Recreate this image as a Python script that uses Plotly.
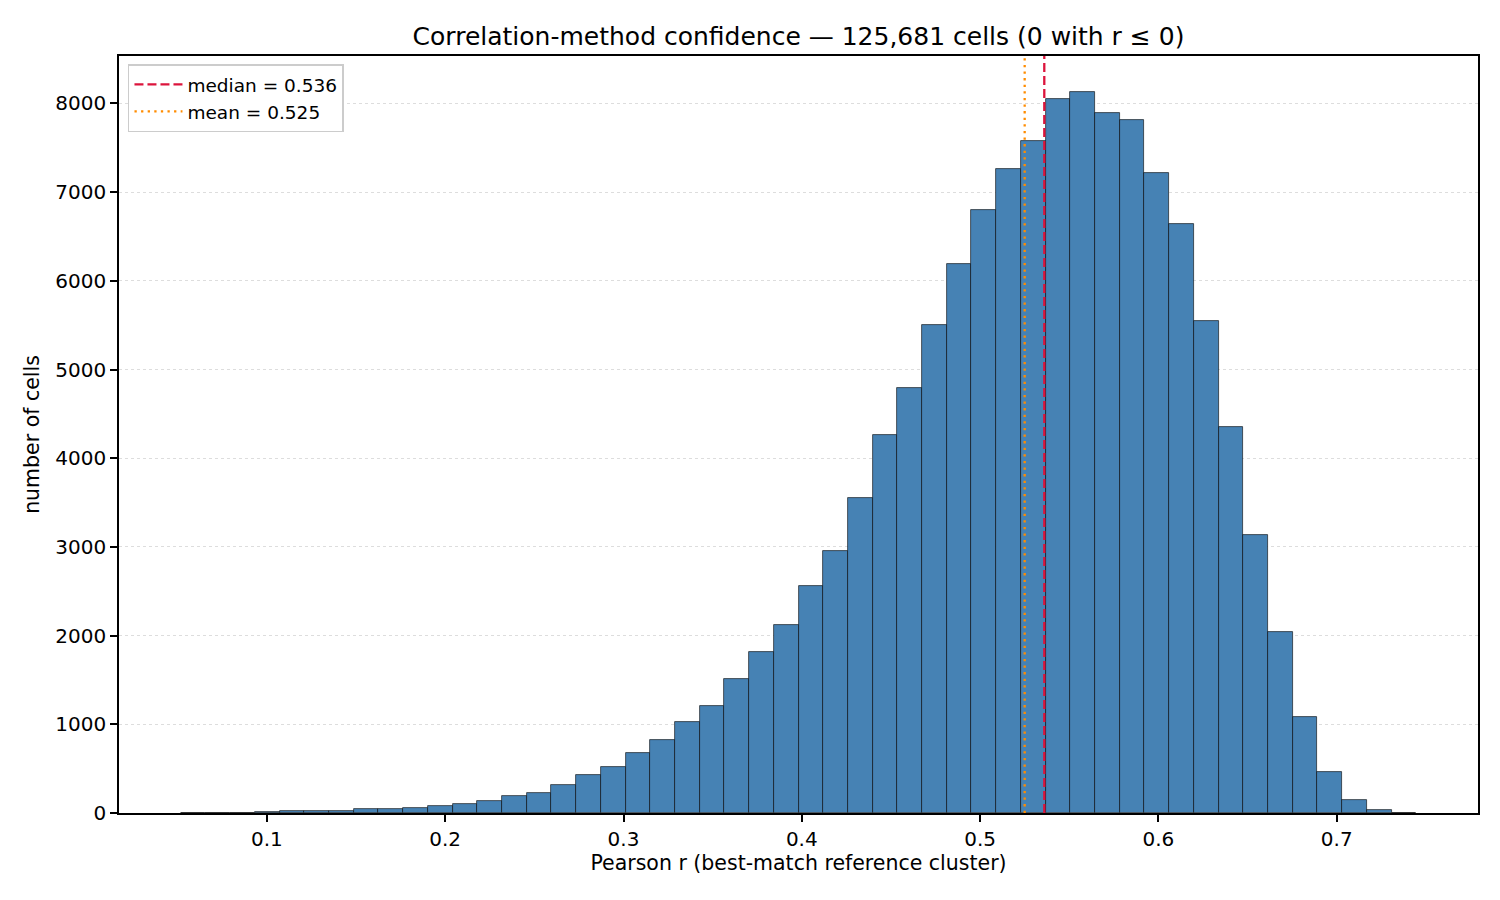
import numpy as np
import plotly.graph_objects as go

# ---- histogram data ----
bin_start = 0.0517     # left edge of first bin
bin_width = 0.013858   # 50 equal bins up to ~0.7446
counts = [
    1, 2, 4, 15, 26, 26, 24, 45, 45, 56,
    79, 105, 135, 196, 229, 320, 432, 523, 677, 825,
    1027, 1211, 1509, 1813, 2117, 2565, 2959, 3554, 4266, 4794,
    5507, 6185, 6795, 7262, 7579, 8050, 8129, 7891, 7812, 7214,
    6637, 5553, 4354, 3140, 2038, 1083, 462, 146, 34, 4,
]
median_r = 0.536
mean_r = 0.525
n_cells = 125681
n_nonpos = 0

centers = bin_start + bin_width * (np.arange(len(counts)) + 0.5)
x_lo = bin_start
x_hi = bin_start + bin_width * len(counts)
pad = 0.05 * (x_hi - x_lo)
y_top = max(counts) * 1.05

fig = go.Figure()

fig.add_trace(go.Bar(
    x=centers, y=counts, width=bin_width,
    marker=dict(color="#4682B4", line=dict(color="rgba(0,0,0,0.75)", width=0.8)),
    showlegend=False, hoverinfo="x+y",
))

fig.add_trace(go.Scatter(
    x=[median_r, median_r], y=[0, y_top], mode="lines",
    line=dict(color="crimson", width=2.3, dash="9px,4px"),
    name=f"median = {median_r:.3f}", legendgroup="a",
))
fig.add_trace(go.Scatter(
    x=[mean_r, mean_r], y=[0, y_top], mode="lines",
    line=dict(color="darkorange", width=2.3, dash="2.3px,4.3px"),
    name=f"mean = {mean_r:.3f}", legendgroup="b",
))

fig.update_layout(
    width=1500, height=900,
    paper_bgcolor="white", plot_bgcolor="white",
    font=dict(family="DejaVu Sans", size=20, color="black"),
    margin=dict(l=119, r=22, t=56, b=87),
    bargap=0,
    title=dict(
        text=f"Correlation-method confidence — {n_cells:,} cells ({n_nonpos} with r ≤ 0)",
        x=0.5, xref="paper", xanchor="center",
        y=1 - 36 / 900, yref="container", yanchor="middle",
        font=dict(size=25),
    ),
    legend=dict(
        x=0.0066, y=0.989, xanchor="left", yanchor="top",
        bgcolor="white", bordercolor="#cccccc", borderwidth=1.5,
        font=dict(size=18.5), tracegroupgap=0, traceorder="grouped",
        itemwidth=48,
    ),
)

fig.update_xaxes(
    range=[x_lo - pad, x_hi + pad],
    tickvals=[0.1, 0.2, 0.3, 0.4, 0.5, 0.6, 0.7],
    ticktext=["0.1", "0.2", "0.3", "0.4", "0.5", "0.6", "0.7"],
    ticks="outside", ticklen=7, tickwidth=1.6, tickcolor="black",
    tickfont=dict(size=20),
    showline=True, linecolor="black", linewidth=1.6, mirror=True,
    showgrid=False, zeroline=False,
    title=dict(text="Pearson r (best-match reference cluster)", standoff=6,
               font=dict(size=20.5)),
)
fig.update_yaxes(
    range=[0, y_top],
    tickvals=list(range(0, 9000, 1000)),
    ticks="outside", ticklen=7, tickwidth=1.6, tickcolor="black",
    tickfont=dict(size=20),
    showline=True, linecolor="black", linewidth=1.6, mirror=True,
    showgrid=True, gridcolor="#dddddd", griddash="dot", gridwidth=1.2,
    zeroline=False,
    title=dict(text="number of cells", standoff=10, font=dict(size=20.5)),
)

fig.write_html("out.html", post_script="document.body.style.margin='0';",
               config={"displayModeBar": False})
